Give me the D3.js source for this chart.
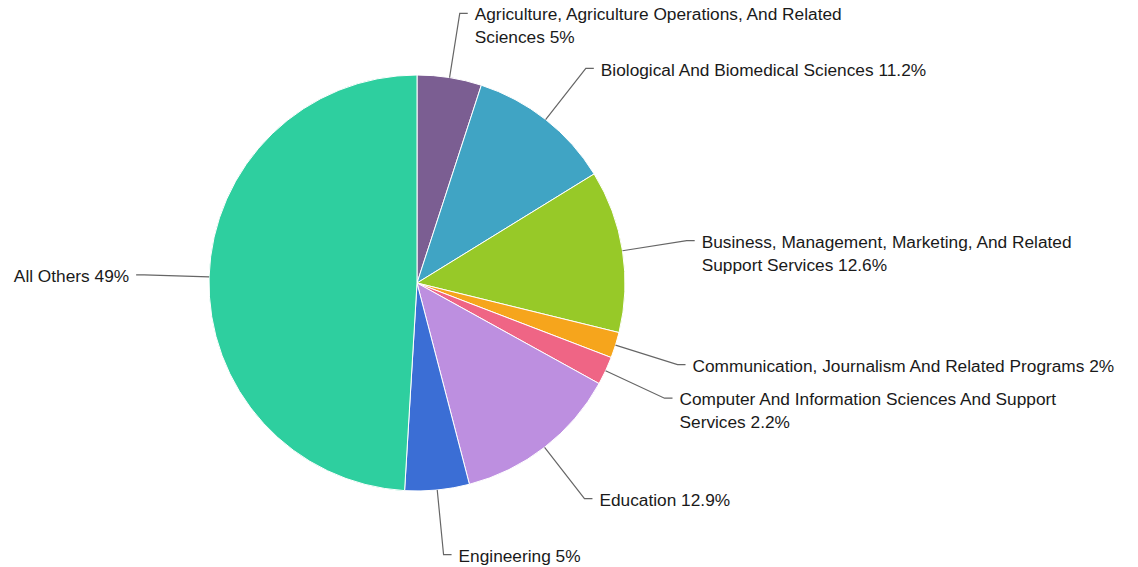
<!DOCTYPE html>
<html>
<head>
<meta charset="utf-8">
<script src="https://cdn.jsdelivr.net/npm/d3@7/dist/d3.min.js"></script>
<style>
html,body{margin:0;padding:0;background:#fff;}
svg{display:block;}
text{font-family:"Liberation Sans",Arial,Helvetica,sans-serif;}
</style>
</head>
<body>
<svg id="chart" width="1138" height="567"></svg>
<script>
const categories = [
  "Agriculture, Agriculture Operations, And Related Sciences",
  "Biological And Biomedical Sciences",
  "Business, Management, Marketing, And Related Support Services",
  "Communication, Journalism And Related Programs",
  "Computer And Information Sciences And Support Services",
  "Education",
  "Engineering",
  "All Others"
];
const values = [5, 11.2, 12.6, 2, 2.2, 12.9, 5, 49];
const colors = ["#7b5e92", "#40a4c4", "#97c928", "#f6a51c", "#ef6585", "#bd8fe0", "#3b6ed5", "#2ecf9f"];

const W = 1138, H = 567;
const cx = 417, cy = 283, R = 208;
const len1 = 65, len2 = 8, gap = 7, lineH = 23, maxW = 428, fontSize = 17.3;

const svg = d3.select("#chart");
const g = svg.append("g").attr("transform", `translate(${cx},${cy})`);

const data = categories.map((c, i) => ({name: c, value: values[i], color: colors[i]}));
const pie = d3.pie().value(d => d.value).sort(null);
const arcs = pie(data);
const arc = d3.arc().innerRadius(0).outerRadius(R);

g.selectAll("path.slice").data(arcs).enter().append("path")
  .attr("class", "slice")
  .attr("d", arc)
  .attr("fill", d => d.data.color)
  .attr("stroke", "#fff")
  .attr("stroke-width", 1);

const lab = g.append("g");
arcs.forEach(d => {
  const a = (d.startAngle + d.endAngle) / 2;
  const sx = Math.sin(a), sy = -Math.cos(a);
  const right = sx >= 0;
  const p0 = [R * sx, R * sy];
  const p1 = [(R + len1) * sx, (R + len1) * sy];
  const p2 = [p1[0] + (right ? len2 : -len2), p1[1]];
  lab.append("polyline")
    .attr("points", [p0, p1, p2].map(p => p.join(",")).join(" "))
    .attr("fill", "none")
    .attr("stroke", "#666")
    .attr("stroke-width", 1.2);
  const txt = lab.append("text")
    .attr("x", p2[0] + (right ? gap : -gap))
    .attr("y", p2[1])
    .attr("text-anchor", right ? "start" : "end")
    .attr("font-size", fontSize)
    .attr("fill", "#1a1a1a");
  const full = d.data.name + " " + d.data.value + "%";
  const words = full.split(" ");
  const lines = [];
  let cur = "";
  const probe = txt.append("tspan");
  words.forEach(w => {
    const test = cur ? cur + " " + w : w;
    probe.text(test);
    if (probe.node().getComputedTextLength() > maxW && cur) {
      lines.push(cur);
      cur = w;
    } else cur = test;
  });
  lines.push(cur);
  probe.remove();
  lines.forEach((ln, i) => {
    txt.append("tspan")
      .attr("x", p2[0] + (right ? gap : -gap))
      .attr("y", p2[1] + 1 + i * lineH)
      .attr("dy", "0.35em")
      .text(ln);
  });
});
</script>
</body>
</html>
